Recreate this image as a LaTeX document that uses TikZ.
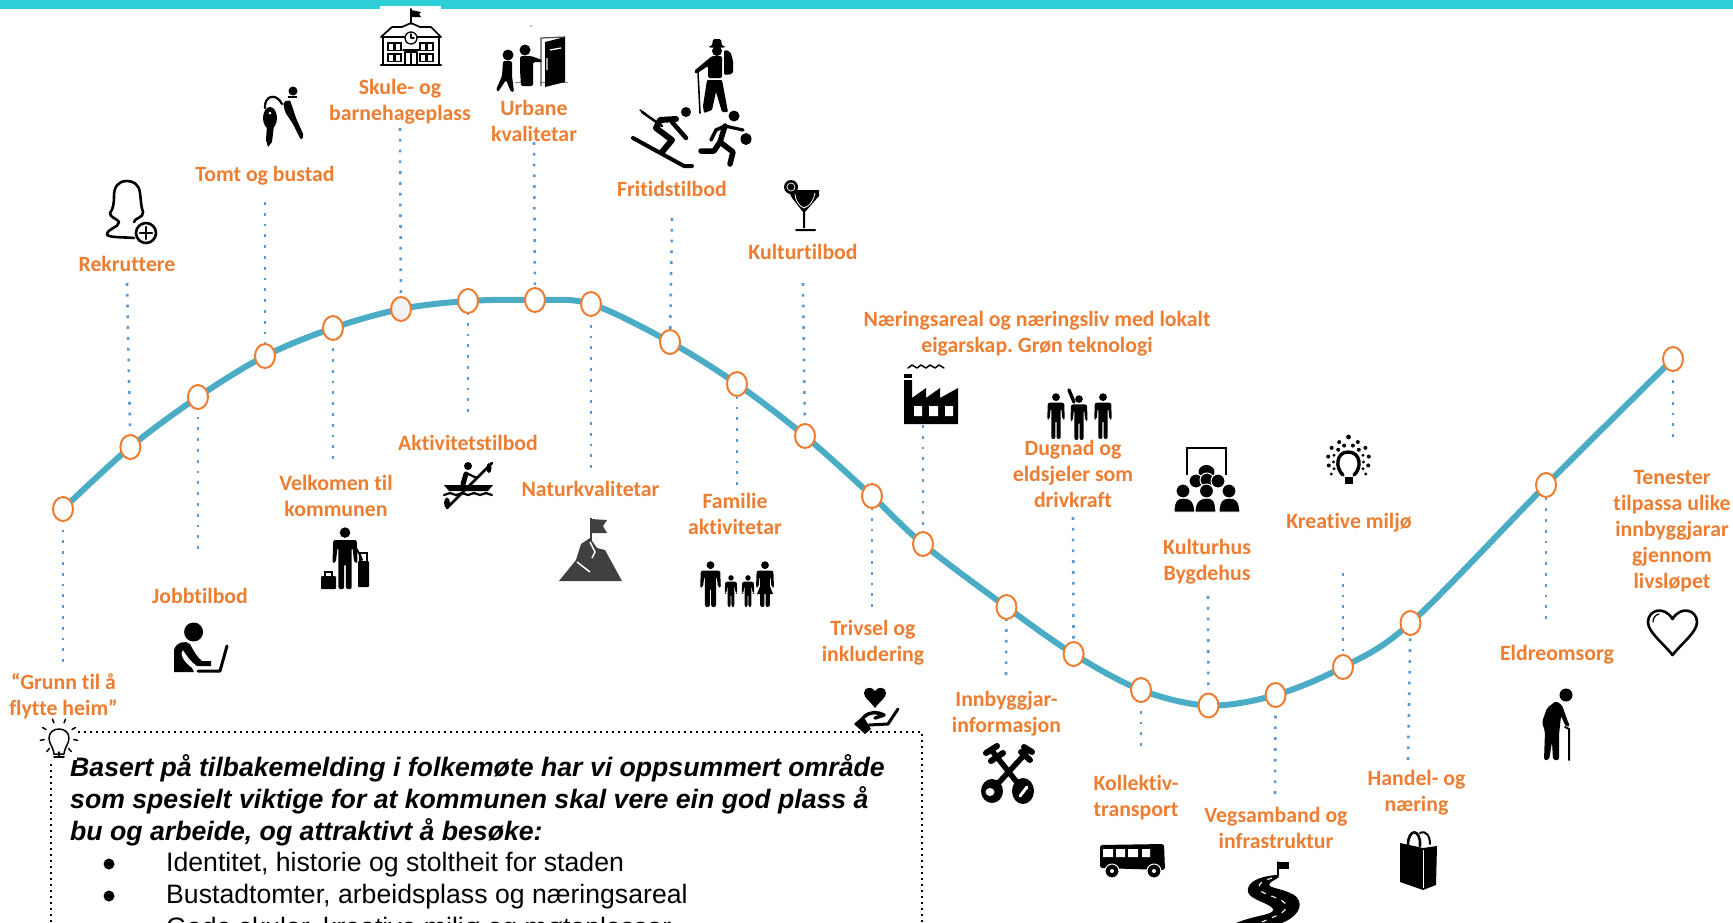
\documentclass[tikz,border=0pt]{standalone}
\usepackage{fontspec}
\setmainfont[Ligatures=NoCommon]{Carlito}
\newfontfamily\arialf{Liberation Sans}
\usetikzlibrary{shapes.geometric,backgrounds}
\definecolor{barc}{HTML}{2DCED6}
\definecolor{curvec}{HTML}{4BACC6}
\definecolor{dotc}{HTML}{5B9BD5}
\definecolor{orangec}{HTML}{ED7D31}
\definecolor{mountc}{HTML}{404040}
\tikzset{
 lab/.style={text=orangec,font=\fontsize{21.8}{26}\selectfont\bfseries,align=center,inner sep=0pt},
 knot/.style={ellipse,draw=orangec,line width=2pt,fill=white,minimum width=20pt,minimum height=24pt,inner sep=0pt},
 dotline/.style={dotc,line width=2.6pt,dash pattern=on 2.8pt off 8pt},
 boxline/.style={black,line width=1.8pt,dash pattern=on 1.8pt off 4.2pt},
 main/.style={anchor=base west,inner sep=0pt,font=\arialf\fontsize{26.65}{30}\selectfont},
 mainb/.style={main,font=\arialf\fontsize{26.65}{30}\selectfont\bfseries\itshape},
 ln/.style={line width=#1,line cap=round,line join=round},
 ln/.default=2.5pt
}
% \stdperson{x}{top y}{height}{width factor}
\newcommand\stdperson[4]{\begin{scope}[shift={(#1,#2)},scale=#3/100]
 \fill (0,9) circle (8.5pt);
 \begin{scope}[xscale=#4]
 \fill[rounded corners=2pt] (-14,21)--(14,21)--(15,58)--(11,58)--(9,33)--(8,33)--(8,100)--(1,100)--(1,60)--(-1,60)--(-1,100)--(-8,100)--(-8,33)--(-9,33)--(-11,58)--(-15,58)--cycle;
 \end{scope}
\end{scope}}
\begin{document}
\frenchspacing
\begin{tikzpicture}[x=1pt,y=-1pt]
\useasboundingbox (0,0) rectangle (1733,922);
\fill[barc] (0,0) rectangle (1733,8.5);
\fill[white] (380,6) rectangle (441,9);
% knots
\foreach \n/\x/\y/\f in {1/63/509/white,2/130.4/447/white,3/198/397/white,4/265/356/white,5/333/328/white,6/401/309/black!5,7/468/301/white,8/535/300/white,9/591/304/white,10/670/342/white,11/737/384/white,12/805/436/white,13/872/496/white,14/923/544/white,15/1006.5/607/white,16/1073.6/654/white,17/1141/690/white,18/1208.5/705.5/white,19/1275.6/695/white,20/1343/667/white,21/1410.5/623/white,22/1546/485/white,23/1673/359/white}
  \node[knot,fill=\f] (c\n) at (\x,\y) {};
% free ends of the dotted lines
\foreach \n/\x/\y in {1/63/662,2/127/283,3/198/549,4/265/202,5/333/459,6/400/128,7/468/412,8/534/142,9/591/468,10/672/218,11/737/485,12/803/283,13/872/607,14/923/425,15/1006/675,16/1073/517,17/1141/746,18/1208/596,19/1275/794,20/1343/573,21/1408/760,22/1546/619,23/1673/437}
  \coordinate (e\n) at (\x,\y);
\begin{pgfonlayer}{background}
 \draw[curvec,line width=6pt] plot[smooth,tension=.55] coordinates {(c1.center) (c2.center) (c3.center) (c4.center) (c5.center) (c6.center) (c7.center) (c8.center) (c9.center) (c10.center) (c11.center) (c12.center) (c13.center) (c14.center) (c15.center) (c16.center) (c17.center) (c18.center) (c19.center) (c20.center) (c21.center) (c22.center) (c23.center)};
 \foreach \n in {1,...,23} \draw[dotline] (e\n) -- (c\n.center);
\end{pgfonlayer}
% labels
\node[lab] (l1) at (63.5,696) {“Grunn til å\\flytte heim”};
\node[lab] (l2) at (127,264) {Rekruttere};
\node[lab] (l3) at (200,596) {Jobbtilbod};
\node[lab] (l4) at (265,176) {Tomt og bustad};
\node[lab] (l5) at (336,496) {Velkomen til\\kommunen};
\node[lab] (l6) at (400,102) {Skule- og\\barnehageplass};
\node[lab] (l7) at (468,443) {Aktivitetstilbod};
\node[lab] (l8) at (534,121) {Urbane\\kvalitetar};
\node[lab] (l9) at (590.5,489) {Naturkvalitetar};
\node[lab] (l10) at (672,189) {Fritidstilbod};
\node[lab] (l11) at (735,514) {Familie\\aktivitetar};
\node[lab] (l12) at (803,252) {Kulturtilbod};
\node[lab] (l13) at (873,643) {Trivsel og\\inkludering};
\node[lab] (l14) at (1037,334) {Næringsareal og næringsliv med lokalt\\eigarskap. Grøn teknologi};
\node[lab] (l15) at (1006.5,714) {Innbyggjar-\\informasjon};
\node[lab] (l16) at (1073,474) {Dugnad og\\eldsjeler som\\drivkraft};
\node[lab] (l17) at (1136,798) {Kollektiv-\\transport};
\node[lab] (l18) at (1207,562) {Kulturhus\\Bygdehus};
\node[lab] (l19) at (1276,827.5) {Vegsamband og\\infrastruktur};
\node[lab] (l20) at (1349,523) {Kreative miljø};
\node[lab] (l21) at (1416.5,793) {Handel- og\\næring};
\node[lab] (l22) at (1557,655) {Eldreomsorg};
\node[lab] (l23) at (1672,531) {Tenester\\tilpassa ulike\\innbyggjarar\\gjennom\\livsløpet};
% text box
\draw[boxline] (51,940) -- (51,760);
\draw[boxline] (78,732) -- (922,732) -- (922,940);
\node[mainb] (t1) at (70,776) {Basert på tilbakemelding i folkemøte har vi oppsummert område};
\node[mainb] (t2) at (70,808) {som spesielt viktige for at kommunen skal vere ein god plass å};
\node[mainb] (t3) at (70,840) {bu og arbeide, og attraktivt å besøke:};
\node[main] (t4) at (166,871) {Identitet, historie og stoltheit for staden};
\node[main] (t5) at (166,903) {Bustadtomter, arbeidsplass og næringsareal};
\node[main] (t6) at (166,936) {Gode skular, kreative miljø og møteplassar};
\fill (109,864) circle (5.5pt);
\fill (109,896) circle (5.5pt);
% ---- icons
% box corner bulb
\fill[white] (43,723) rectangle (77,760);
\draw[ln=1.5pt] (54,754) .. controls (53,746) and (49,744) .. (49,738) .. controls (49,726) and (69,726) .. (69,738) .. controls (69,744) and (65,746) .. (64,754) -- cycle;
\draw[ln=1.6pt] (54,757)--(64,757);
\foreach \a in {0,40,80,120,160,200,240,280,320}
  \draw[ln=1.5pt] (59,737)++(\a+10:15) -- ++(\a+10:4);
% female + plus
\draw[ln=2.6pt] (134,222) .. controls (134,218) and (144,218) .. (143,212) .. controls (141,207) and (141,200) .. (140,193) .. controls (139,184) and (133,181) .. (127,181) .. controls (118,181) and (114,187) .. (114,196) .. controls (114,204) and (113,209) .. (110,213) .. controls (109,217) and (118,219) .. (119,222) .. controls (119,228) and (107,228) .. (107,235) .. controls (112,238) and (125,237) .. (134,238);
\draw[ln=2.6pt,fill=white] (146,233) circle (10pt);
\draw[ln=2.8pt] (146,227)--(146,239) (140,233)--(152,233);
% keys and butler
\fill (293,91) circle (4.5pt);
\fill (288,96) rectangle (297,98);
\fill[rounded corners=2pt] (283,102)--(290,100)--(296,118)--(304,136)--(301,140)--(293,124)--(285,112)--cycle;
\draw[ln=2.2pt] (265,108) .. controls (264,96) and (276,92) .. (282,104);
\fill (270,118) ellipse (7pt and 11pt);
\fill (267,125)--(274,125)--(272,142)--(268,147)--(266,140)--cycle;
\fill[white] (270,113) circle (1.5pt);
% school
\draw[ln=1.6pt] (411,24)--(411,9);
\fill (411,10)--(421,12)--(419,14)--(421,17)--(411,17)--cycle;
\draw[ln=1.7pt] (381,37)--(392,27)--(402,27)--(411,23)--(420,27)--(431,27)--(441,37)--cycle;
\draw[ln=1.7pt] (383,38)--(383,64) (439,38)--(439,64);
\draw[ln=2.6pt] (381,65)--(441,65);
\draw[ln=1.3pt,fill=white] (411,38) circle (6pt);
\draw[ln=1.2pt] (411,34)--(411,38)--(414,38);
\foreach \wx in {388,395,420,427}\foreach \wy in {43,54}
  \draw[line width=1.4pt] (\wx,\wy) rectangle ++(6,7.5);
\draw[ln=1.5pt] (405,65)--(405,52)--(417,52)--(417,65) (411,52)--(411,65) (403,50)--(419,50);
% urban
\fill (531,26) circle (.7pt);
\draw[black!50,line width=1pt] (515,82)--(533,82) (540,82)--(568,82);
\draw[line width=1.2pt,black!70] (541,86)--(541,38)--(565,37);
\fill (545,42)--(565,37)--(565,82)--(545,87)--cycle;
\draw[white,line width=1.3pt] (550,50)--(561,48) (547,58)--(547,70);
\fill (525,50) circle (5.5pt);
\fill[rounded corners=1.5pt] (520,56)--(531,56)--(542,60)--(542,62)--(533,62)--(533,86)--(521,86)--(520,70)--cycle;
\fill (508,55) circle (5.5pt);
\fill[rounded corners=1.5pt] (503,61)--(512,61)--(512,76)--(514,92)--(511,92)--(506,80)--(498,92)--(496,90)--(502,76)--cycle;
% hiker
\fill[rounded corners=1.5pt] (709,46)--(712,46)--(713,39)--(721,39)--(722,46)--(725,46)--(725,47.5)--(709,47.5)--cycle;
\fill (717,51) circle (5pt);
\fill[rounded corners=2pt] (724,50)--(730,51)--(733,60)--(733,74)--(724,75)--cycle;
\fill[rounded corners=1.5pt] (712,56)--(722,56)--(722,78)--(708,78)--(708,66)--(696,74)--(694,71)--cycle;
\fill[rounded corners=1pt] (707,80)--(722,80)--(728,112)--(722,112)--(716,92)--(712,110)--(704,113)--(703,106)--cycle;
\draw[ln=1.6pt] (698,72)--(700,113);
% skier
\fill (686,112) circle (5pt);
\draw[ln=4pt] (633,138)--(684,166)--(692,166);
\draw[ln=6pt] (676,119)--(660,120)--(656,128)--(672,140)--(662,152);
\draw[ln=4.5pt] (672,122)--(686,138);
\draw[ln=2.5pt] (642,112)--(662,126);
\draw[ln=1.5pt] (640,110)--(646,114);
% runner
\fill (734,116) circle (5.5pt);
\draw[ln=5.5pt] (725,126)--(720,142)--(714,151)--(701,151);
\draw[ln=5.5pt] (720,142)--(733,152)--(730,164);
\draw[ln=3.5pt] (725,126)--(716,130)--(711,140);
\draw[ln=3.2pt] (725,126)--(743,130);
\fill (746,139) ellipse (5.5pt and 6pt);
% cocktail
\fill (791,187) circle (7pt);
\fill (788,190)--(819,190)--(819,196)--(805,212)--(805,228)--(803,228)--(803,212)--(792,198)--cycle;
\fill[rounded corners=1pt] (795,229)--(816,229)--(816,231)--(795,231)--cycle;
\draw[white,line width=.8pt] (795,194) .. controls (795,200) and (799,206) .. (804,208) .. controls (810,206) and (814,200) .. (815,193);
\draw[white,line width=.7pt] (791,187) circle (4pt);
% factory
\draw[ln=1.5pt] (908,368)--(912,365)--(917,368)--(921,365)--(926,368)--(930,365)--(935,368)--(939,365)--(944,368);
\fill (904,374) rectangle (912,378);
\fill (904,380)--(912,380)--(912,398)--(926,388)--(926,398)--(940,388)--(940,398)--(958,388)--(958,424)--(904,424)--cycle;
\fill[white] (914,406) rectangle (922,416) (929,406) rectangle (938,416) (945,406) rectangle (953,416);
% three people
\stdperson{1056}{393}{46}{1.27}
\stdperson{1079}{395}{45}{1.27}
\stdperson{1103}{393}{46}{1.27}
\draw[ln=3.4pt] (1074,402)--(1069,390);
% audience
\draw[line width=2.6pt] (1187,475)--(1187,448)--(1226,448)--(1226,475);
\fill (1206.5,472) ellipse (8pt and 7pt);
\begin{scope}[draw=white,line width=1pt]
\foreach \hx/\hy in {1196/481,1207/480,1218/481}
  \filldraw[fill=black] (\hx,\hy) circle (7pt);
\foreach \hx/\bx in {1183/1174,1206.5/1195,1229/1219}{
  \filldraw[fill=black] (\bx,512) .. controls (\bx,500) and (\hx-5,498) .. (\hx,498) .. controls (\hx+7,498) and (\bx+20,500) .. (\bx+21,512) -- cycle;
  \filldraw[fill=black] (\hx,491) circle (7pt);}
\end{scope}
% kreative bulb
\draw[ln=3.4pt] (1343,475) .. controls (1335,468) and (1336,452) .. (1348,452) .. controls (1361,452) and (1362,468) .. (1354,475);
\fill (1345,477) rectangle (1353,484);
\foreach \a/\r/\s in {90/25/2.4,65/22/2,115/22/2,40/22/2,140/22/2,15/21/2,165/21/2,-10/20/2,190/20/2,-35/21/1.6,215/21/1.6,75/17/2,105/17/2,50/16/2,130/16/2,25/16/1.7,155/16/1.7,0/15/1.6,180/15/1.6,-25/16/1.6,205/16/1.6}
  \fill (1348.5,462)++(\a:{-\r}) circle (\s pt);
% heart
\draw[ln=2.6pt] (1672.5,655) .. controls (1662,642) and (1648,632) .. (1648,622) .. controls (1648,610) and (1664,605) .. (1672.5,619) .. controls (1681,605) and (1697,610) .. (1697,622) .. controls (1697,632) and (1683,642) .. (1672.5,655) -- cycle;
\draw[ln=1.2pt] (1653,622) .. controls (1653,618) and (1655,615) .. (1659,614);
% old man
\fill (1566,695) circle (6.5pt);
\fill[rounded corners=2pt] (1556,701)--(1562,705)--(1568,722)--(1570,726)--(1566,727)--(1561,716)--(1559,735)--(1559,760)--(1553,760)--(1552,742)--(1549,760)--(1544,760)--(1545,732)--(1542,722)--(1547,708)--cycle;
\draw[ln=2pt] (1569,760)--(1569,729)--(1565,727);
% bag
\fill (1400,843)--(1423,848)--(1437,846)--(1436,885)--(1423,890)--(1400,882)--cycle;
\draw[white,line width=.8pt] (1423,850)--(1423,888);
\draw[ln=2.6pt] (1408,845) .. controls (1408,828) and (1421,828) .. (1420,846);
\draw[ln=2pt] (1420,833) .. controls (1426,830) and (1430,836) .. (1430,844);
% bus
\fill[rounded corners=2.5pt] (1100,845)--(1164,844)--(1165,870)--(1100,868)--cycle;
\fill[white] (1103,849) rectangle (1113,857) (1116,849) rectangle (1125,857) (1128,849) rectangle (1138,857) (1142,849) rectangle (1150,857);
\filldraw[fill=black,draw=white,line width=1pt] (1112,871) circle (7pt) (1154,871) circle (7pt);
\fill[white] (1112,871) circle (2pt) (1154,871) circle (2pt);
% road
\draw[ln=1.5pt] (1278,876)--(1278,862);
\fill (1278,862) rectangle (1289,869);
\fill (1277,875) .. controls (1260,876) and (1246,882) .. (1248,892) .. controls (1250,900) and (1270,903) .. (1273,909) .. controls (1275,915) and (1255,915) .. (1236,923) -- (1282,923) .. controls (1294,918) and (1302,910) .. (1299,901) .. controls (1296,890) and (1270,889) .. (1269,885) .. controls (1270,881) and (1276,880) .. (1279,877) -- cycle;
\draw[white,line width=1.1pt,dash pattern=on 5pt off 6pt] (1272,878) .. controls (1258,882) and (1256,887) .. (1262,892) .. controls (1274,898) and (1288,900) .. (1286,908) .. controls (1284,914) and (1270,918) .. (1260,923);
% crossed keys
\draw[ln=5.5pt] (993,752)--(1023,790) (1026,753)--(992,790);
\draw[ln=6pt] (986,753)--(997,746) (991,761)--(1003,753) (1021,752)--(1030,760) (1024,747)--(1032,752);
\fill (992,791) ellipse (11pt and 12pt) (1023,791) ellipse (11pt and 13pt);
\fill[white] (990,792) ellipse (4.5pt and 4pt);
\draw[white,line width=3pt,line cap=round] (1020,796)--(1027,787);
% hand heart
\fill (875,708) .. controls (870,701) and (864,698) .. (864,693) .. controls (864,687) and (872,686) .. (875,691) .. controls (878,686) and (886,687) .. (886,693) .. controls (886,698) and (880,701) .. (875,708) -- cycle;
\fill (854,724)--(863,716)--(871,729)--(865,734)--cycle;
\draw[ln=3.5pt] (864,717) .. controls (870,711) and (878,712) .. (884,715) -- (875,718);
\draw[ln=3pt] (869,725)--(888,724)--(898,709);
% family
\stdperson{710.5}{561}{46}{1.5}
\stdperson{731}{575}{32}{1.3}
\stdperson{748}{575}{32}{1.3}
\stdperson{765}{561}{46}{1.3}
\fill (765,574)--(773,594)--(757,594)--cycle;
% mountain
\draw[mountc,line width=2pt] (591,543)--(591,518);
\fill[mountc] (591,519)--(607,520)--(603,526)--(607,533)--(591,533)--cycle;
\fill[mountc] (559,581)--(576,560)--(581,544)--(590,538)--(597,548)--(605,550)--(622,581)--cycle;
\draw[white,line width=1.5pt] (590,542)--(595,552)--(592,558) (577,562)--(590,572);
% luggage man
\stdperson{345}{527}{62}{1.35}
\draw[ln=2pt] (354,545)--(360,555)--(362,560);
\fill[rounded corners=1pt] (358,561) rectangle (369,587);
\draw[line width=1.6pt] (360,561)--(360,553)--(367,553)--(367,561);
\fill[rounded corners=1pt] (321,576) rectangle (336,589);
\draw[line width=1.4pt] (325,576)--(325,572)--(332,572)--(332,576);
% kayak
\fill (468,466) circle (4pt);
\draw[ln=2.6pt] (492,463)--(447,508);
\fill (489,468) ellipse (2.5pt and 5pt) (447,503) ellipse (3pt and 5.5pt);
\draw[ln=5pt] (466,474)--(463,484);
\draw[ln=2.2pt] (466,473)--(477,478);
\fill (444,485)--(493,485)--(488,491)--(449,491)--cycle;
\draw[ln=2.2pt] (444,495)--(450,493)--(456,495)--(462,493)--(468,495)--(474,493)--(480,495)--(486,493)--(492,495);
% laptop person
\fill (193.6,632) circle (9.5pt);
\fill (174,672)--(174,650) .. controls (176,642) and (186,640) .. (190,644) .. controls (193,650) and (197,657) .. (202,661)--(211,661)--(211,666)--(197,666) .. controls (191,662) and (187,656) .. (183,650) .. controls (180,652) and (181,660) .. (192,668)--(194,672)--cycle;
\draw[ln=3pt] (227,646)--(220,671)--(198,671);
\end{tikzpicture}
\end{document}
